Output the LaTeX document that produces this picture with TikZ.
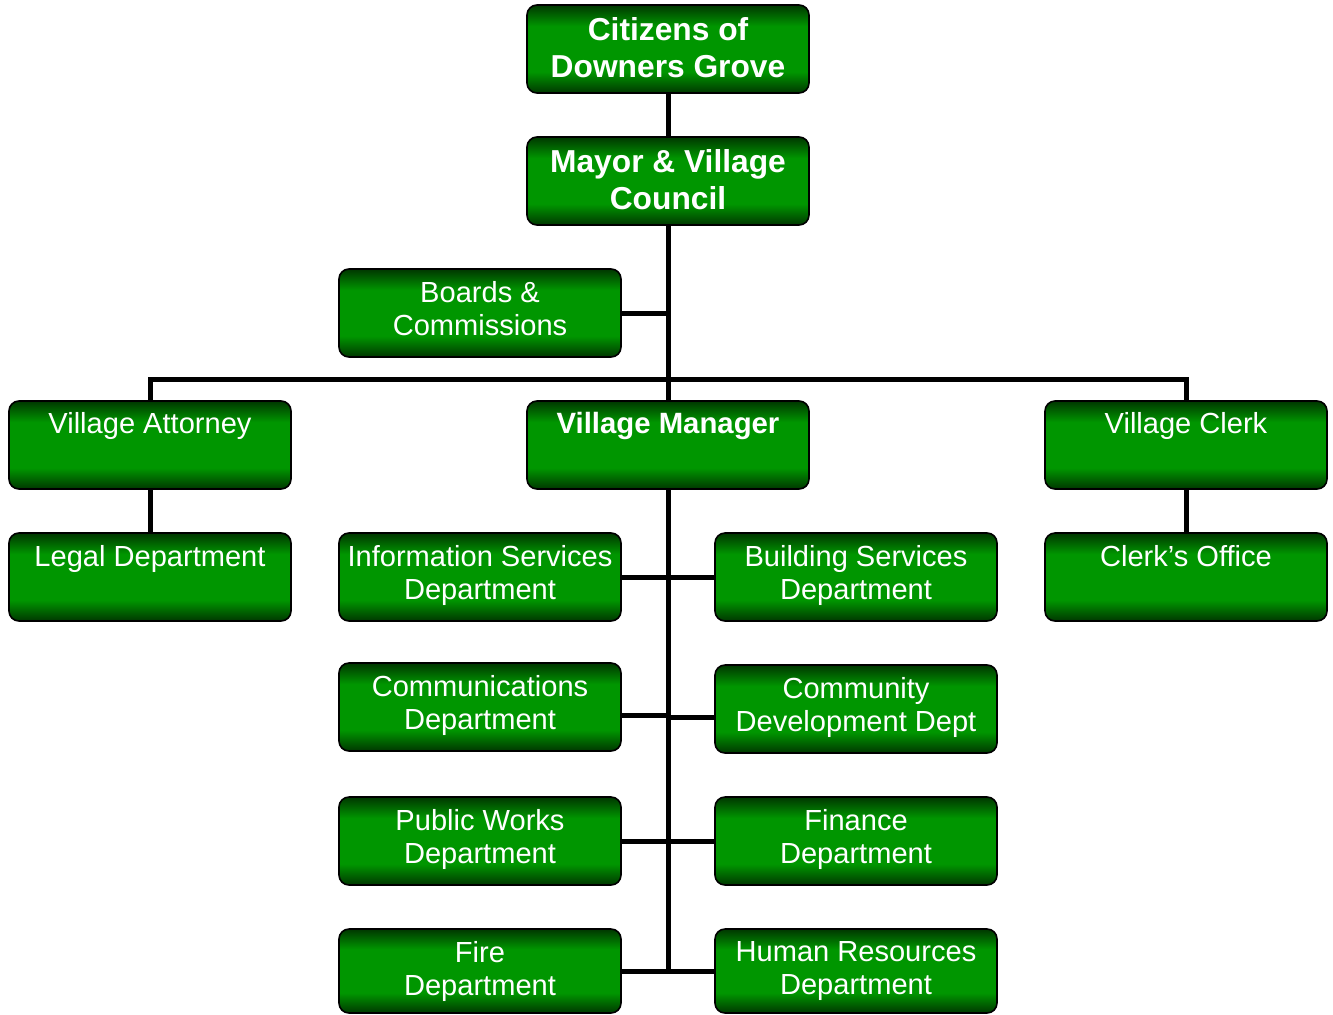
\documentclass[tikz,border=0pt]{standalone}
\usepackage{fontspec}
\setmainfont{Liberation Sans}
\definecolor{gdark}{RGB}{0,55,0}
\definecolor{gbright}{RGB}{0,150,0}
\pgfdeclareverticalshading{greenbox}{100bp}{color(0bp)=(gdark); color(25bp)=(gdark); color(37bp)=(gbright); color(63bp)=(gbright); color(75bp)=(gdark); color(100bp)=(gdark)}
\tikzset{
  box/.style={draw=black, line width=1.2pt, rounded corners=7.5pt, shading=greenbox,
    minimum width=211.5pt, minimum height=66pt, inner sep=0pt},
  txt/.style={align=center, text=white, inner sep=0pt, font=\fontsize{21.8}{24.75}\selectfont},
  boldtxt/.style={txt, font=\fontsize{23.8}{27.75}\selectfont\bfseries},
  conn/.style={line width=3.75pt, black},
}
\begin{document}
\begin{tikzpicture}[x=0.75pt,y=-0.75pt]
\useasboundingbox (0,0) rectangle (1333,1014);
\draw[conn] (668,93) -- (668,971);
\node[box] (cit) at (668,49) {};
\node[box] (may) at (668,181) {};
\node[box] (brd) at (480,313) {};
\node[box] (att) at (150,445) {};
\node[box] (mgr) at (668,445) {};
\node[box] (clk) at (1186,445) {};
\node[box] (leg) at (150,577) {};
\node[box] (inf) at (480,577) {};
\node[box] (bld) at (856,577) {};
\node[box] (cof) at (1186,577) {};
\node[box] (com) at (480,707) {};
\node[box] (cdd) at (856,709) {};
\node[box] (pwd) at (480,841) {};
\node[box] (fin) at (856,841) {};
\node[box, minimum height=63pt] (fir) at (480,971) {};
\node[box, minimum height=63pt] (hrd) at (856,971) {};
% labels
\node[boldtxt] (citt) at ([yshift=1pt]cit.center) {Citizens of\\Downers Grove};
\node[boldtxt] (mayt) at ([yshift=1pt]may.center) {Mayor \& Village\\Council};
\node[txt] (brdt) at ([yshift=3pt]brd.center) {Boards \&\\Commissions};
\node[txt, anchor=base] (attt) at (150,433) {Village Attorney};
\node[txt, anchor=base, font=\fontsize{22}{24.75}\selectfont\bfseries] (mgrt) at (668,433.5) {Village Manager};
\node[txt, anchor=base] (clkt) at (1186,433) {Village Clerk};
\node[txt, anchor=base] (legt) at (150,566) {Legal Department};
\node[txt] (inft) at ([yshift=1.5pt]inf.center) {Information Services\\Department};
\node[txt] (bldt) at ([yshift=1.5pt]bld.center) {Building Services\\Department};
\node[txt, anchor=base] (coft) at (1186,566) {Clerk’s Office};
\node[txt] (comt) at ([yshift=1.5pt]com.center) {Communications\\Department};
\node[txt] (cddt) at ([yshift=1.5pt]cdd.center) {Community\\Development Dept};
\node[txt] (pwdt) at ([yshift=1.5pt]pwd.center) {Public Works\\Department};
\node[txt] (fint) at ([yshift=1.5pt]fin.center) {Finance\\Department};
\node[txt] (firt) at (fir.center) {Fire\\Department};
\node[txt] (hrdt) at (hrd.center) {Human Resources\\Department};
\coordinate (bar) at (668,379);
\coordinate (mb) at (668,971);
\draw[conn] (cit.south) -- (may.north);
\draw[conn] (may.south) -- (mgr.north);
\draw[conn] (brd.east) -- (brd.east -| may.south);
\draw[conn] (att.north) |- (bar) -| (clk.north);
\draw[conn] (att.south) -- (leg.north);
\draw[conn] (clk.south) -- (cof.north);
\draw[conn] (mgr.south) -- (mb);
\draw[conn] (inf.east) -- (bld.west);
\draw[conn] ([yshift=-6pt]com.east) -- ([yshift=-6pt]com.east -| mb);
\draw[conn] ([yshift=-6pt]cdd.west) -- ([yshift=-6pt]cdd.west -| mb);
\draw[conn] (pwd.east) -- (fin.west);
\draw[conn] (fir.east) -- (hrd.west);
\end{tikzpicture}
\end{document}
